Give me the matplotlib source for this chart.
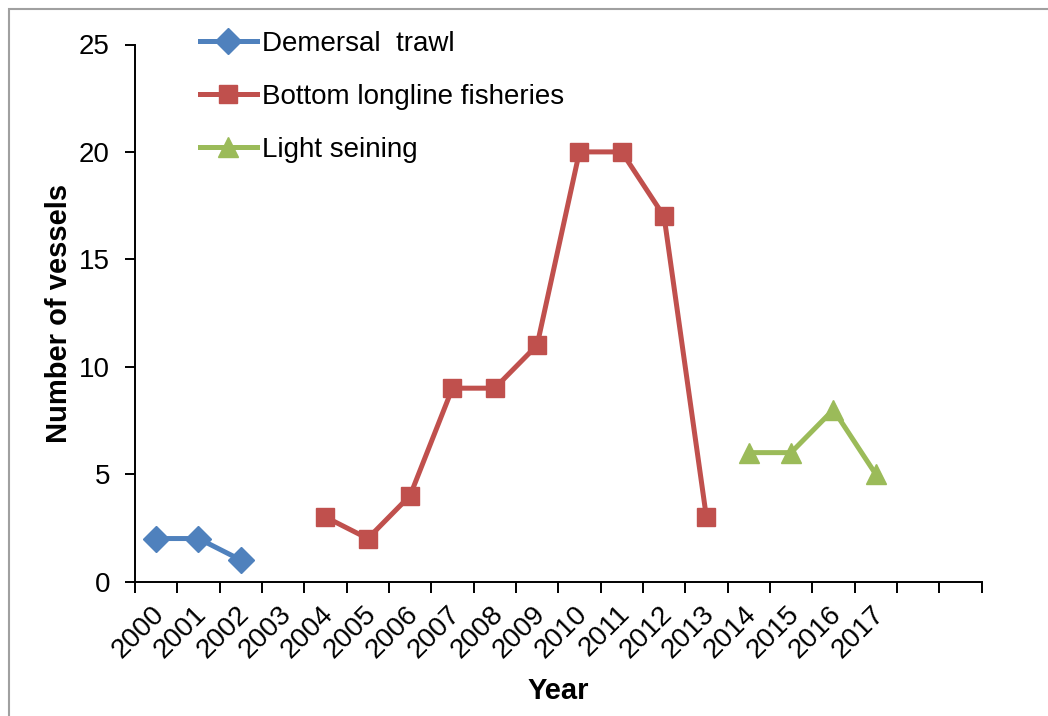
import matplotlib.pyplot as plt
import matplotlib.patches as patches
from matplotlib.transforms import ScaledTranslation
import numpy as np

#%% Data
years = [str(y) for y in range(2000, 2018)] + ["", ""]

trawl_years = [2000, 2001, 2002]
trawl_vessels = [2, 2, 1]

longline_years = [2004, 2005, 2006, 2007, 2008, 2009, 2010, 2011, 2012, 2013]
longline_vessels = [3, 2, 4, 9, 9, 11, 20, 20, 17, 3]

seining_years = [2014, 2015, 2016, 2017]
seining_vessels = [6, 6, 8, 5]

#%% Plot
plt.rcParams['font.family'] = ['Liberation Sans', 'DejaVu Sans']

fig = plt.figure(figsize=(10.48, 7.16), dpi=100)
ax = fig.add_axes([135/1048, 1 - 581.5/716, 846.5/1048, 537/716])

def pos(yrs):
    # category index for each year
    return [years.index(str(y)) for y in yrs]

ax.plot(pos(trawl_years), trawl_vessels, color='#4F81BD', lw=3.6,
        marker='D', ms=13, label='Demersal  trawl')
ax.plot(pos(longline_years), longline_vessels, color='#C0504D', lw=3.6,
        marker='s', ms=13.5, label='Bottom longline fisheries')
ax.plot(pos(seining_years), seining_vessels, color='#9BBB59', lw=3.6,
        marker='^', ms=14, label='Light seining')

ax.set_xlim(-0.5, len(years) - 0.5)
ax.set_ylim(0, 25)
ax.set_yticks(np.arange(0, 26, 5))

ax.set_xticks(range(len(years)))
ax.set_xticklabels(years, rotation=45, ha='right', va='top',
                   rotation_mode='anchor')
ax.set_xticks(np.arange(-0.5, len(years)), minor=True)
ax.tick_params(axis='x', which='major', length=0, pad=14, labelsize=20)
ax.tick_params(axis='x', which='minor', length=8, width=1.4, direction='out')
ax.tick_params(axis='y', length=7, width=1.4, direction='out', pad=11,
               labelsize=20)
# nudge the rotated year labels a little to the left
shift = ScaledTranslation(-5/100, 0, fig.dpi_scale_trans)
for lbl in ax.get_xticklabels():
    lbl.set_transform(lbl.get_transform() + shift)

for side in ['top', 'right']:
    ax.spines[side].set_visible(False)
for side in ['left', 'bottom']:
    ax.spines[side].set_linewidth(1.4)

ax.set_ylabel('Number of vessels', fontsize=21, fontweight='bold', labelpad=4)
ax.set_xlabel('Year', fontsize=21, fontweight='bold', labelpad=10)

ax.legend(loc='upper left', bbox_to_anchor=((200 - 135)/846.5, 1.025),
          frameon=False, fontsize=20, handlelength=2.05, handletextpad=0.18,
          labelspacing=0.97, borderpad=0, borderaxespad=0)

# chart border
fig.patches.append(patches.Rectangle((9/1048, -0.1), 1.2, 1.1 - 9/716,
                                     transform=fig.transFigure, fill=False,
                                     edgecolor='#A0A0A0', lw=1.5))

fig.savefig('out.png', dpi=100)
